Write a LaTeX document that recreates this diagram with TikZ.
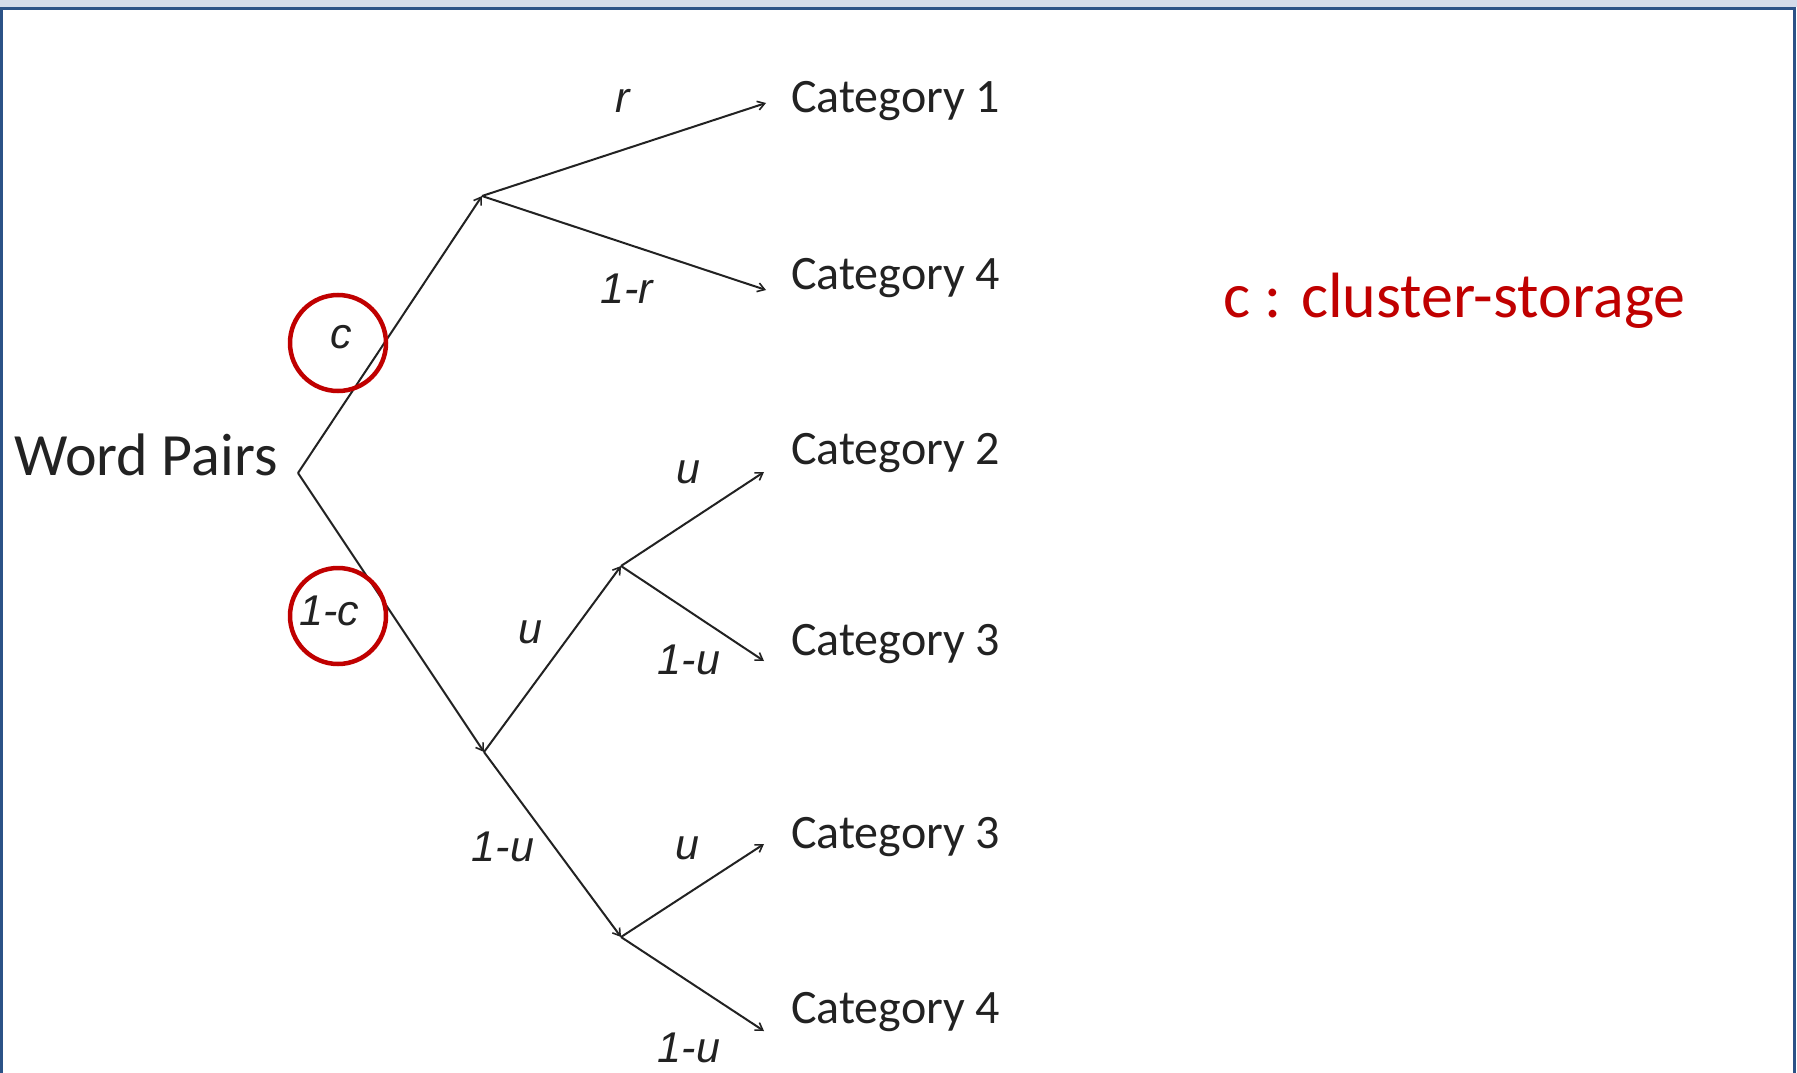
\documentclass[tikz,border=0pt]{standalone}
\usepackage{fontspec}
\setmainfont{Carlito}
\newfontfamily\lblfont{Liberation Sans}
\usetikzlibrary{arrows.meta}
\definecolor{frameblue}{HTML}{2B5287}
\definecolor{stripblue}{HTML}{D3DBEA}
\definecolor{hlred}{HTML}{C00000}
\definecolor{ink}{HTML}{222222}
\tikzset{
  edge/.style={draw=ink, line width=2pt, -{Straight Barb[length=7pt,width=9pt,line width=1.6pt]}},
  cat/.style={anchor=base west, inner sep=0pt, font=\fontsize{48}{56}\selectfont, text=ink},
  prob/.style={inner sep=0pt, font=\lblfont\itshape\fontsize{43}{48}\selectfont, text=ink},
  ring/.style={draw=hlred, line width=4.5pt},
}
\begin{document}
\begin{tikzpicture}[x=1pt,y=-1pt]
\useasboundingbox (0,0) rectangle (1797,1073);
% frame
\fill[white] (0,0) rectangle (1797,1073);
\fill[stripblue] (0,0) rectangle (1797,7);
\draw[frameblue, line width=3pt] (1.5,1073) -- (1.5,8.5) -- (1794.5,8.5) -- (1794.5,1073);

% tree points
\coordinate (root) at (298,473);
\coordinate (A) at (482,196);
\coordinate (B) at (484,752);
\coordinate (C) at (621,566);
\coordinate (D) at (621,937);
\coordinate (t1) at (766,103);
\coordinate (t2) at (766,290);
\coordinate (t3) at (764,472);
\coordinate (t4) at (764,661);
\coordinate (t5) at (764,844);
\coordinate (t6) at (764,1031);

\draw[edge] (root) -- (A);
\draw[edge] (root) -- (B);
\draw[edge] (A) -- (t1);
\draw[edge] (A) -- (t2);
\draw[edge] (B) -- (C);
\draw[edge] (B) -- (D);
\draw[edge] (C) -- (t3);
\draw[edge] (C) -- (t4);
\draw[edge] (D) -- (t5);
\draw[edge] (D) -- (t6);

% texts
\node[anchor=base west, inner sep=0pt, font=\fontsize{60}{66}\selectfont, text=ink] (wp) at (14,475) {Word Pairs};
\node[cat] (c1) at (791,112) {Category 1};
\node[cat] (c4a) at (791,289) {Category 4};
\node[cat] (c2) at (791,464) {Category 2};
\node[cat] (c3a) at (791,655) {Category 3};
\node[cat] (c3b) at (791,848) {Category 3};
\node[cat] (c4b) at (791,1023) {Category 4};

\node[prob] (lr) at (623,101) {r};
\node[prob] (l1r) at (627,289) {1-r};
\node[prob] (lc) at (341,337) {c};
\node[prob] (l1c) at (329,611) {1-c};
\node[prob] (lu1) at (688,472) {u};
\node[prob] (lu2) at (530,632) {u};
\node[prob] (l1u1) at (689,660) {1-u};
\node[prob] (l1u2) at (503,847) {1-u};
\node[prob] (lu3) at (687,848) {u};
\node[prob] (l1u3) at (689,1048) {1-u};

\draw[ring] (338,343) circle (48);
\draw[ring] (338,616) circle (48);

\node[anchor=base west, inner sep=0pt, font=\fontsize{64}{70}\selectfont, text=hlred] (legend) at (1223,317) {c : cluster-storage};
\end{tikzpicture}
\end{document}
